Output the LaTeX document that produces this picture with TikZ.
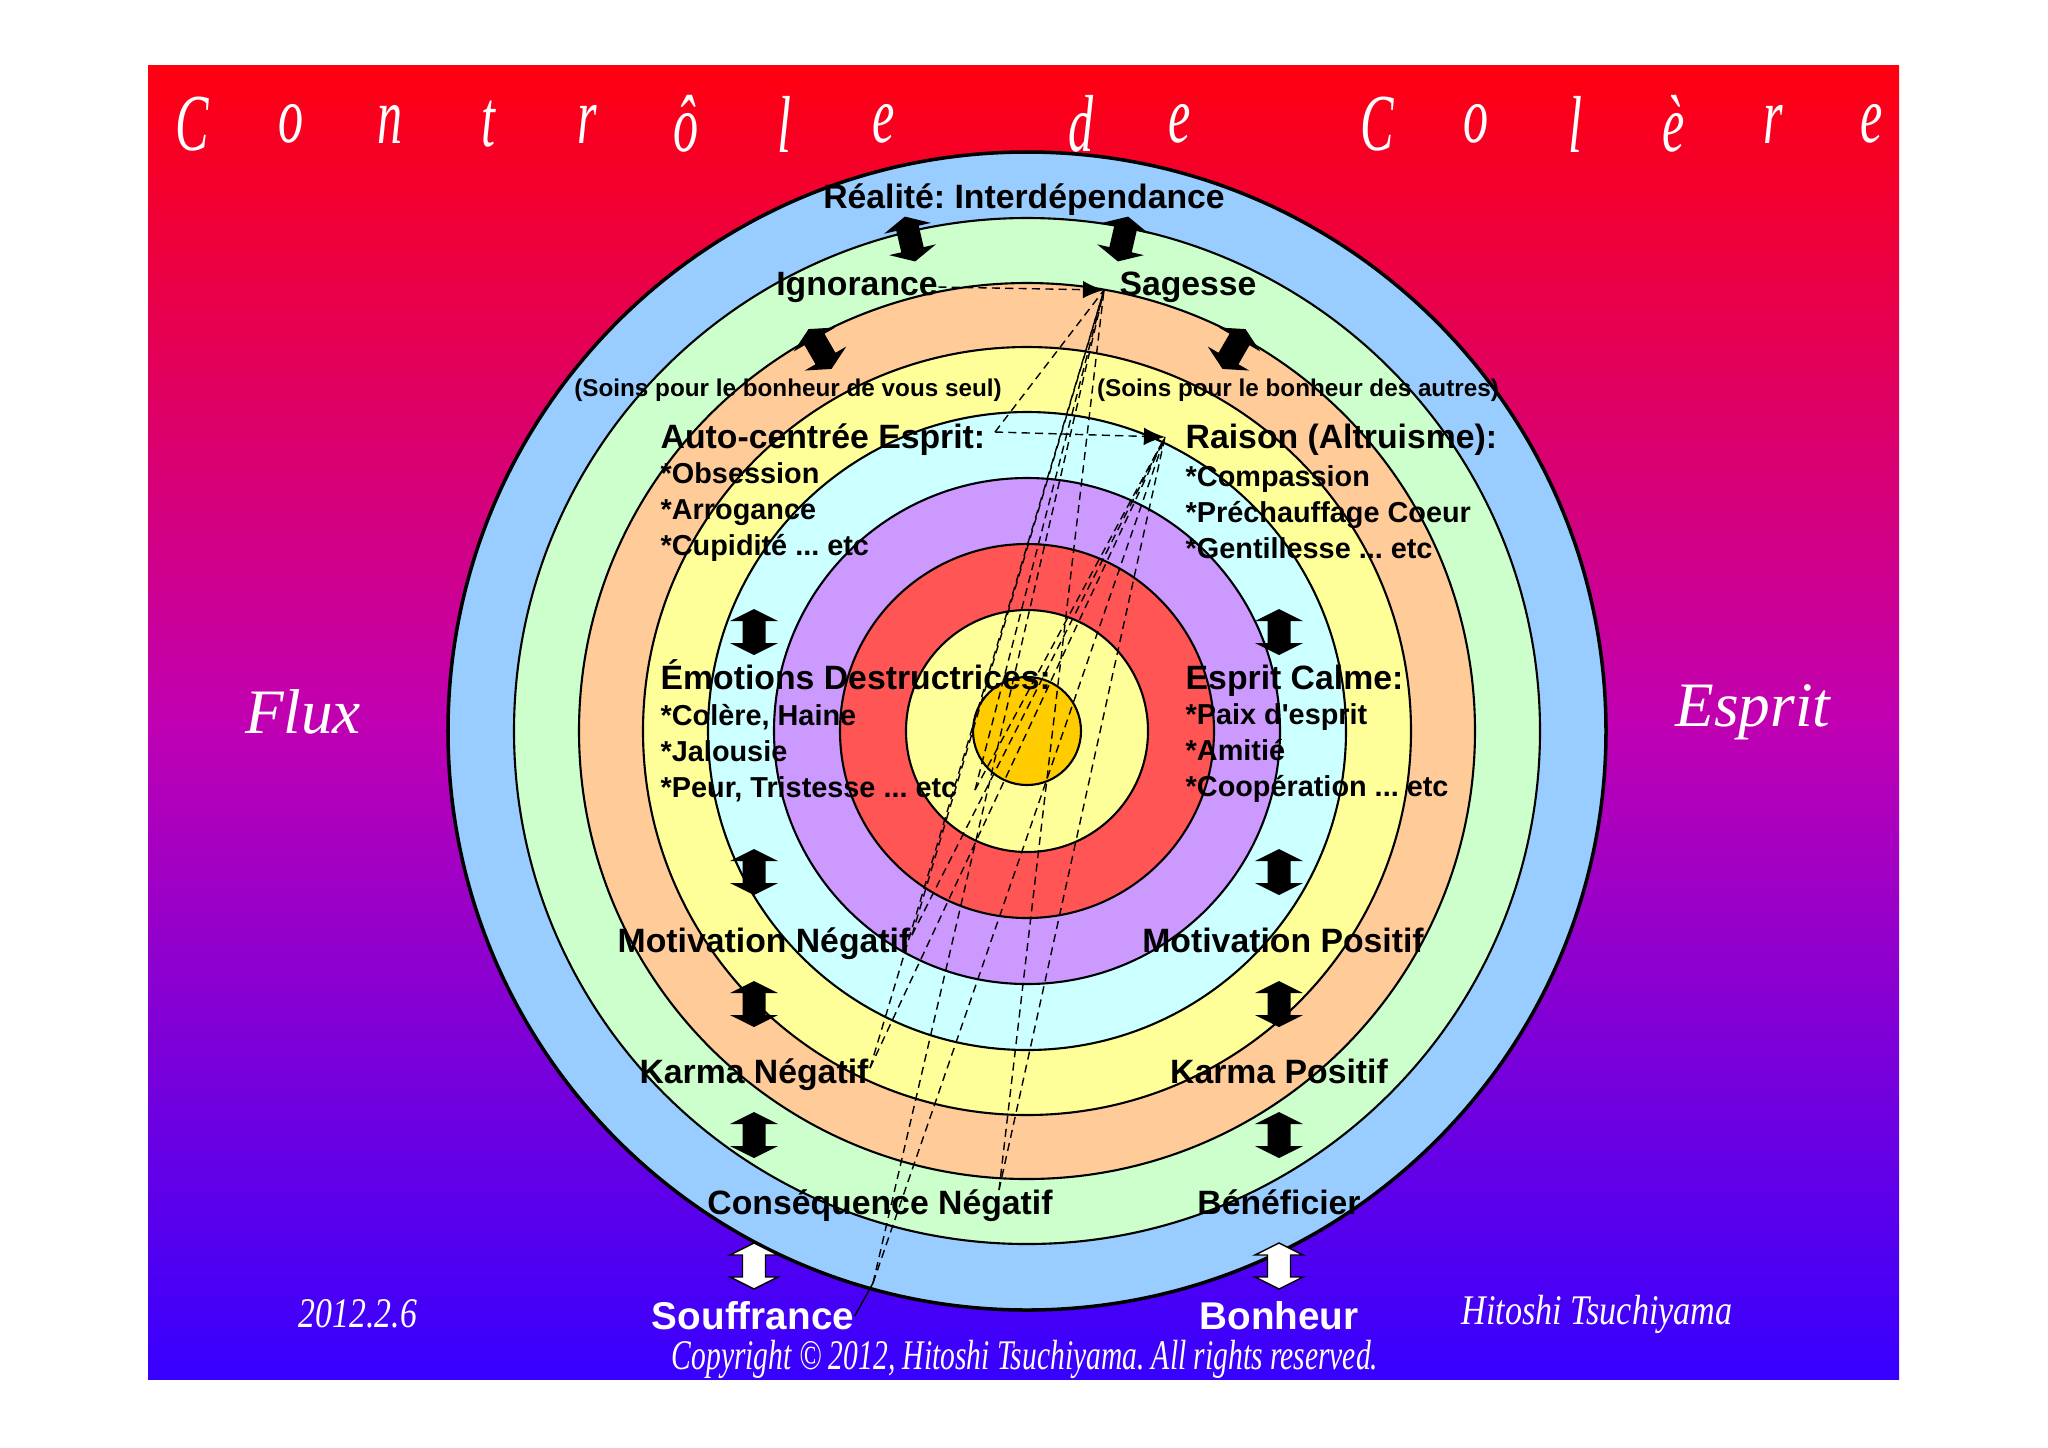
\documentclass[tikz,border=0pt]{standalone}
\usepackage{fontspec}
\setmainfont{Liberation Serif}
\setsansfont{Liberation Sans}[Ligatures=TeXOff]
\usetikzlibrary{arrows.meta, positioning}

\definecolor{ringblue}{HTML}{99CCFF}
\definecolor{ringgreen}{HTML}{CCFFCC}
\definecolor{ringorange}{HTML}{FFCC99}
\definecolor{ringyellow}{HTML}{FFFF99}
\definecolor{ringcyan}{HTML}{CCFFFF}
\definecolor{ringviolet}{HTML}{CC99FF}
\definecolor{ringred}{HTML}{FF5555}
\definecolor{ringgold}{HTML}{FFCC00}

\tikzset{
    dblarrow/.pic={
        \path[pic actions] (0,23) -- (24,11) -- (11.5,11) -- (11.5,-11) -- (24,-11) -- (0,-23)
            -- (-24,-11) -- (-11.5,-11) -- (-11.5,11) -- (-24,11) -- cycle;
    }
}

\begin{document}
\frenchspacing
\begin{tikzpicture}[x=0.01cm, y=-0.01cm,
    lbl/.style={font=\sffamily\bfseries\fontsize{9.6}{11.5}\selectfont, inner sep=0pt,
        text height=0.245cm, text depth=0.07cm},
    item/.style={font=\sffamily\bfseries\fontsize{8.2}{10.2}\selectfont, align=left, inner sep=0pt},
    soin/.style={font=\sffamily\bfseries\fontsize{6.9}{8}\selectfont, inner sep=0pt},
    big/.style={font=\sffamily\bfseries\fontsize{11}{13}\selectfont, text=white, inner sep=0pt},
    script/.style={font=\itshape, text=white, inner sep=0pt},
    ring/.style={draw=black, line width=0.6pt},
    flow/.style={line width=0.4pt, dash pattern=on 2.3pt off 1.5pt},
    flowarrow/.style={flow, -{Latex[length=6pt, width=5pt]}}
]
% page and background
\useasboundingbox (0,0) rectangle (2048,1447);
\fill[white] (0,0) rectangle (2048,1447);
\shade[top color={rgb,255:red,255;green,0;blue,16}, bottom color={rgb,255:red,55;green,0;blue,255},
       middle color={rgb,255:red,192;green,0;blue,178}]
    (148,65) rectangle (1899,1379);

% title
\foreach \ch [count=\i from 0] in {C,o,n,t,r,ô,l,e,{},d,e,{},C,o,l,è,r,e}
    \node[script, font=\itshape\fontsize{23}{26}\selectfont, xscale=0.62] (title\i) at (192+98.8*\i,124) {\ch};

% rings
\coordinate (c) at (1027,731);
\foreach \r/\col in {579/ringblue, 513/ringgreen, 448/ringorange, 384/ringyellow, 319/ringcyan,
                     253/ringviolet, 187/ringred, 121/ringyellow, 54/ringgold}
    \filldraw[ring, fill=\col] (c) circle[radius=\r];
\draw[line width=1pt] (c) circle[radius=579];

% side texts
\node[script, font=\itshape\fontsize{18}{20}\selectfont] (flux) at (303,712) {Flux};
\node[script, font=\itshape\fontsize{18}{20}\selectfont] (esprit) at (1753,712) {Esprit};
\node[script, font=\itshape\fontsize{12}{14}\selectfont, xscale=0.8] (date) at (358,1314) {2012.2.6};
\node[script, font=\itshape\fontsize{12}{14}\selectfont, xscale=0.81] (author) at (1597,1314) {Hitoshi Tsuchiyama};
\node[script, font=\itshape\fontsize{12}{14}\selectfont, xscale=0.70] (copy) at (1025,1359) {Copyright © 2012, Hitoshi Tsuchiyama. All rights reserved.};

% labels
\node[lbl] (realite) at (1024,200) {Réalité: Interdépendance};
\node[lbl] (ignorance) at (857,287) {Ignorance};
\node[lbl] (sagesse) at (1188,287) {Sagesse};
\node[soin] (soinself) at (788,390) {(Soins pour le bonheur de vous seul)};
\node[soin] (soinother) at (1298,390) {(Soins pour le bonheur des autres)};
\node[lbl, anchor=west] (autocentre) at (660,440) {Auto-centrée Esprit:};
\node[item, anchor=west] (autoitems) at (660,512) {*Obsession\\*Arrogance\\*Cupidité ... etc};
\node[lbl, anchor=west] (raison) at (1185,440) {Raison (Altruisme):};
\node[item, anchor=west] (raisonitems) at (1185,512) {*Compassion\\*Préchauffage Coeur\\*Gentillesse ... etc};
\node[lbl, anchor=west] (emotions) at (660,681) {Émotions Destructrices:};
\node[item, anchor=west] (emoitems) at (660,753) {*Colère, Haine\\*Jalousie\\*Peur, Tristesse ... etc};
\node[lbl, anchor=west] (calme) at (1185,681) {Esprit Calme:};
\node[item, anchor=west] (calmeitems) at (1185,753) {*Paix d'esprit\\*Amitié\\*Coopération ... etc};
\node[lbl] (motneg) at (764,944) {Motivation Négatif};
\node[lbl] (motpos) at (1283,944) {Motivation Positif};
\node[lbl] (karmaneg) at (754,1075) {Karma Négatif};
\node[lbl] (karmapos) at (1279,1075) {Karma Positif};
\node[lbl] (consneg) at (880,1206) {Conséquence Négatif};
\node[lbl] (benef) at (1279,1206) {Bénéficier};
\node[big] (souffrance) at (753,1316) {Souffrance};
\node[big] (bonheur) at (1279,1316) {Bonheur};

% block arrows
\foreach \y [count=\k] in {632,872,1004,1135} {
    \pic[fill=black] (la\k) at (754,\y) {dblarrow};
    \pic[fill=black] (ra\k) at (1279,\y) {dblarrow};
}
\pic[fill=white, draw=black, line width=0.4pt] (lwhite) at (754,1266) {dblarrow};
\pic[fill=white, draw=black, line width=0.4pt] (rwhite) at (1279,1266) {dblarrow};
\pic[fill=black, rotate=13] (dtl) at (910,239) {dblarrow};
\pic[fill=black, rotate=-13] (dtr) at (1123,239) {dblarrow};
\pic[fill=black, rotate=30] (dbl) at (820,349) {dblarrow};
\pic[fill=black, rotate=-30] (dbr) at (1234,349) {dblarrow};

% flows
\coordinate (stip) at (1104,290);
\coordinate (rtip) at (1165,437);
\coordinate (acend) at (995,432);
\coordinate (emoend) at (975,790);
\coordinate (motend) at (912,935);
\coordinate (karend) at (870,1068);
\coordinate (consend) at (999,1190);
\coordinate (soufj) at (873,1283);
\draw[flowarrow] (ignorance.east) -- (stip);
\draw[flowarrow] (acend) -- (rtip);
\draw[flow] (acend) -- (stip);
\foreach \p in {emoend, motend, karend, consend, soufj} {
    \draw[flow] (\p) -- (stip);
    \draw[flow] (\p) -- (rtip);
}
\draw[line width=0.4pt] (souffrance.east) -- (soufj);
\end{tikzpicture}
\end{document}
